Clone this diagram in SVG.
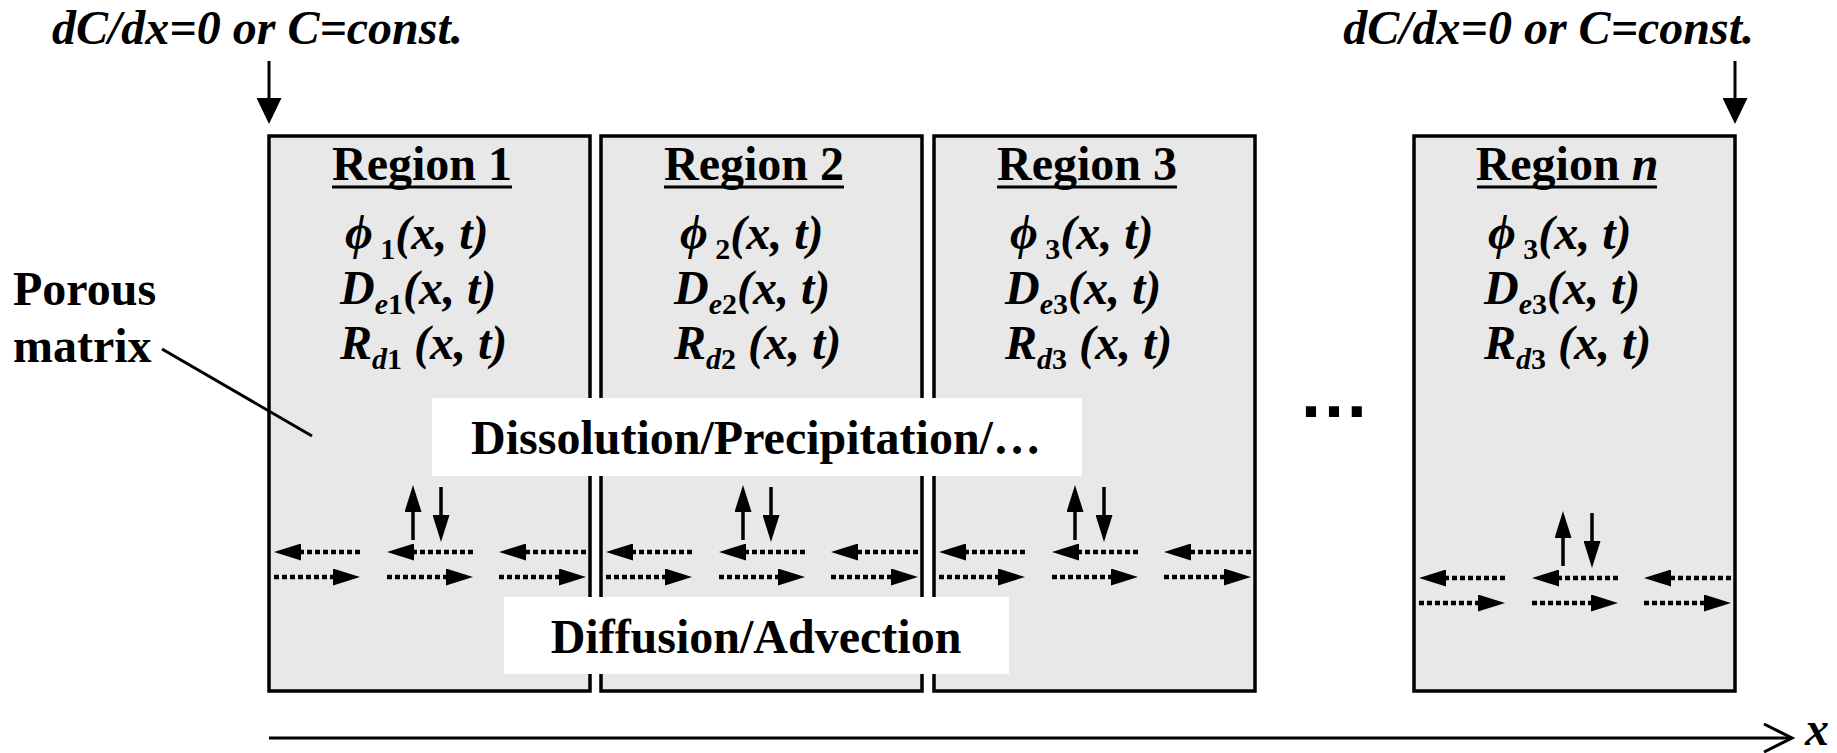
<svg xmlns="http://www.w3.org/2000/svg" width="1837" height="753" viewBox="0 0 1837 753">
<style>
.box{fill:#e8e8e8;stroke:#000;stroke-width:3.5}
.wb{fill:#fff}
text{font-family:"Liberation Serif","Times New Roman",serif;font-weight:bold;font-size:48px;fill:#000}
.i{font-style:italic}
.sub{font-size:30px}
.t{text-anchor:middle}
.ctr{text-anchor:middle}
.ul{stroke:#000;stroke-width:3;fill:none}
.dot{stroke:#000;stroke-width:4.5;stroke-dasharray:5 3;fill:none;marker-end:url(#ah)}
.sol{stroke:#000;stroke-width:3.5;fill:none;marker-end:url(#ah)}
.bnd{stroke:#000;stroke-width:3;fill:none;marker-end:url(#ahb)}
.ln{stroke:#000;stroke-width:3;fill:none}
</style>
<defs>
<marker id="ah" markerUnits="userSpaceOnUse" markerWidth="27" markerHeight="17" viewBox="0 0 27 17" refX="1" refY="8.5" orient="auto"><path d="M0,0 L27,8.5 L0,17 Z" fill="#000"/></marker>
<marker id="ahb" markerUnits="userSpaceOnUse" markerWidth="26" markerHeight="25" viewBox="0 0 26 25" refX="1" refY="12.5" orient="auto"><path d="M0,0 L26,12.5 L0,25 Z" fill="#000"/></marker>
</defs>

<text id="bc-left" class="i" x="52" y="44">dC/dx=0 or C=const.</text>
<text id="bc-right" class="i" x="1754" y="44" text-anchor="end">dC/dx=0 or C=const.</text>

<g id="region1">
<rect class="box" x="269" y="136" width="321" height="555"/>
<text class="t" x="422" y="180">Region 1</text>
<path class="ul" d="M332,187 H512"/>
<text x="345" y="249"><tspan class="i">ϕ</tspan><tspan class="sub" dy="10"> 1</tspan><tspan class="i" dy="-10">(x, t)</tspan></text>
<text x="340" y="304"><tspan class="i">D</tspan><tspan class="sub" dy="10"><tspan class="i">e</tspan>1</tspan><tspan class="i" dy="-10">(x, t)</tspan></text>
<text x="340" y="359"><tspan class="i">R</tspan><tspan class="sub" dy="10"><tspan class="i">d</tspan>1</tspan><tspan class="i" dy="-10"> (x, t)</tspan></text>
</g>
<g id="region2">
<rect class="box" x="601" y="136" width="321" height="555"/>
<text class="t" x="754" y="180">Region 2</text>
<path class="ul" d="M664,187 H844"/>
<text x="680" y="249"><tspan class="i">ϕ</tspan><tspan class="sub" dy="10"> 2</tspan><tspan class="i" dy="-10">(x, t)</tspan></text>
<text x="674" y="304"><tspan class="i">D</tspan><tspan class="sub" dy="10"><tspan class="i">e</tspan>2</tspan><tspan class="i" dy="-10">(x, t)</tspan></text>
<text x="674" y="359"><tspan class="i">R</tspan><tspan class="sub" dy="10"><tspan class="i">d</tspan>2</tspan><tspan class="i" dy="-10"> (x, t)</tspan></text>
</g>
<g id="region3">
<rect class="box" x="934" y="136" width="321" height="555"/>
<text class="t" x="1087" y="180">Region 3</text>
<path class="ul" d="M997,187 H1177"/>
<text x="1010" y="249"><tspan class="i">ϕ</tspan><tspan class="sub" dy="10"> 3</tspan><tspan class="i" dy="-10">(x, t)</tspan></text>
<text x="1005" y="304"><tspan class="i">D</tspan><tspan class="sub" dy="10"><tspan class="i">e</tspan>3</tspan><tspan class="i" dy="-10">(x, t)</tspan></text>
<text x="1005" y="359"><tspan class="i">R</tspan><tspan class="sub" dy="10"><tspan class="i">d</tspan>3</tspan><tspan class="i" dy="-10"> (x, t)</tspan></text>
</g>
<g id="regionN">
<rect class="box" x="1414" y="136" width="321" height="555"/>
<text class="t" x="1567" y="180">Region <tspan class="i">n</tspan></text>
<path class="ul" d="M1477,187 H1657"/>
<text x="1488" y="249"><tspan class="i">ϕ</tspan><tspan class="sub" dy="10"> 3</tspan><tspan class="i" dy="-10">(x, t)</tspan></text>
<text x="1484" y="304"><tspan class="i">D</tspan><tspan class="sub" dy="10"><tspan class="i">e</tspan>3</tspan><tspan class="i" dy="-10">(x, t)</tspan></text>
<text x="1484" y="359"><tspan class="i">R</tspan><tspan class="sub" dy="10"><tspan class="i">d</tspan>3</tspan><tspan class="i" dy="-10"> (x, t)</tspan></text>
</g>

<g id="dissolution">
<rect class="wb" x="432" y="398" width="650" height="78"/>
<text class="ctr" x="756" y="454">Dissolution/Precipitation/…</text>
</g>
<g id="diffusion">
<rect class="wb" x="504" y="597" width="505" height="77"/>
<text class="ctr" x="756" y="653">Diffusion/Advection</text>
</g>

<g id="porous">
<text x="13" y="305">Porous</text>
<text x="13" y="362">matrix</text>
</g>

<text id="ellipsis" x="1298" y="417" style="font-family:'Liberation Sans',Arial,sans-serif;font-size:72px">…</text>
<text id="xlabel" class="i" x="1805" y="745">x</text>

<g id="connectors">
<path class="bnd" d="M269,61 V99"/>
<path class="bnd" d="M1735,61 V99"/>
<path class="ln" d="M162,349 L312,436"/>
<path class="ln" d="M269,738 H1791"/>
<path class="ln" d="M1764,724 L1792,738 L1764,752"/>

<path class="sol" d="M413,540 V511"/>
<path class="sol" d="M441,487 V516"/>
<path class="sol" d="M743,540 V511"/>
<path class="sol" d="M771,487 V516"/>
<path class="sol" d="M1075,540 V511"/>
<path class="sol" d="M1104,487 V516"/>
<path class="sol" d="M1563,566 V537"/>
<path class="sol" d="M1592,513 V542"/>

<path class="dot" d="M360,552 H300"/>
<path class="dot" d="M473,552 H413"/>
<path class="dot" d="M586,552 H525"/>
<path class="dot" d="M274,577 H334"/>
<path class="dot" d="M387,577 H447"/>
<path class="dot" d="M499,577 H560"/>

<path class="dot" d="M692,552 H632"/>
<path class="dot" d="M805,552 H745"/>
<path class="dot" d="M918,552 H857"/>
<path class="dot" d="M606,577 H666"/>
<path class="dot" d="M719,577 H779"/>
<path class="dot" d="M831,577 H892"/>

<path class="dot" d="M1025,552 H965"/>
<path class="dot" d="M1138,552 H1078"/>
<path class="dot" d="M1251,552 H1190"/>
<path class="dot" d="M939,577 H999"/>
<path class="dot" d="M1052,577 H1112"/>
<path class="dot" d="M1164,577 H1225"/>

<path class="dot" d="M1505,578 H1445"/>
<path class="dot" d="M1618,578 H1558"/>
<path class="dot" d="M1731,578 H1670"/>
<path class="dot" d="M1419,603 H1479"/>
<path class="dot" d="M1532,603 H1592"/>
<path class="dot" d="M1644,603 H1705"/>
</g>
</svg>
